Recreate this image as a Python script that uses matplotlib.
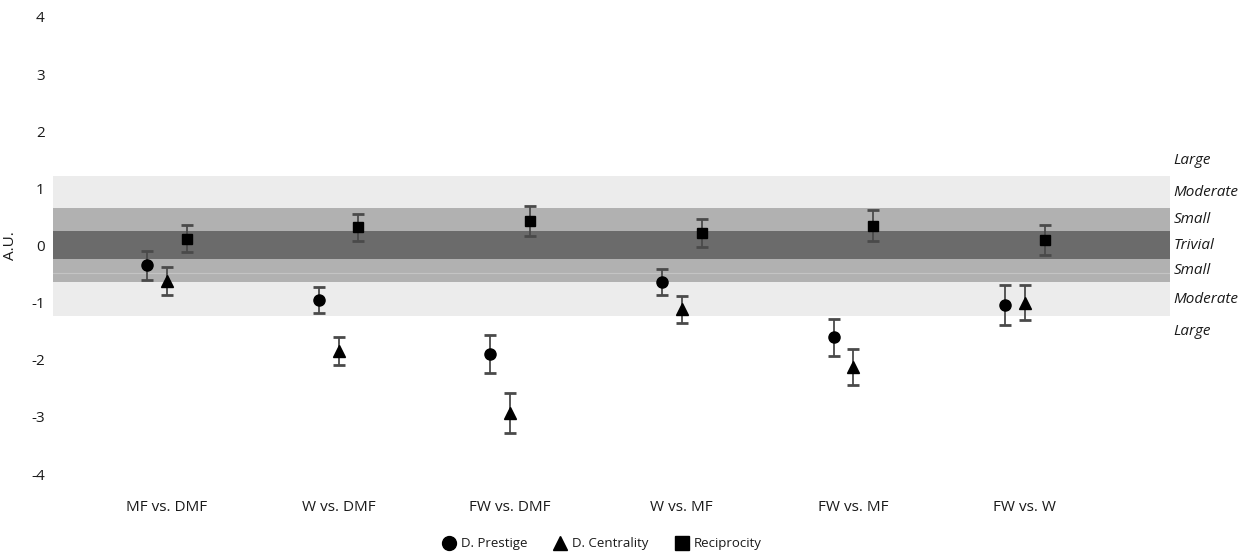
import matplotlib
matplotlib.use("Agg")
import matplotlib.pyplot as plt
import numpy as np
from matplotlib.lines import Line2D

plt.rcParams["font.family"] = ["Open Sans", "DejaVu Sans"]
plt.rcParams["axes.unicode_minus"] = False

comparisons = ["MF vs. DMF", "W vs. DMF", "FW vs. DMF", "W vs. MF", "FW vs. MF", "FW vs. W"]

prestige_mean = [-0.35, -0.95, -1.90, -0.64, -1.61, -1.04]
prestige_err = [0.25, 0.23, 0.34, 0.23, 0.33, 0.35]
centrality_mean = [-0.62, -1.85, -2.93, -1.12, -2.13, -1.00]
centrality_err = [0.25, 0.25, 0.35, 0.23, 0.32, 0.31]
reciprocity_mean = [0.12, 0.32, 0.43, 0.22, 0.35, 0.10]
reciprocity_err = [0.24, 0.24, 0.27, 0.25, 0.27, 0.26]

# magnitude thresholds (lower, upper) for the shaded zones
trivial_band = (-0.245, 0.26)
small_band = (-0.64, 0.65)
moderate_band = (-1.24, 1.21)
zone_names = ["Large", "Moderate", "Small", "Trivial", "Small", "Moderate", "Large"]

x = np.arange(len(comparisons))
offset = 0.115
text_color = "#1a1a1a"

fig = plt.figure(figsize=(12.52, 5.55), dpi=100)
ax = fig.add_axes([53 / 1252, 1 - 474 / 555, (1170 - 53) / 1252, (474 - 17) / 555])

ax.axhspan(*moderate_band, color="#ececec", zorder=0, lw=0)
ax.axhspan(*small_band, color="#b1b1b1", zorder=1, lw=0)
ax.axhspan(*trivial_band, color="#6b6b6b", zorder=2, lw=0)
ax.axhline(-0.49, color="#c4c4c4", lw=0.8, zorder=2)

err_kw = dict(ls="none", ecolor="#4a4a4a", elinewidth=1.3, capsize=4, capthick=2.0,
              mfc="black", mec="black", zorder=5)
ax.errorbar(x - offset, prestige_mean, yerr=prestige_err, fmt="o", ms=8, **err_kw)
ax.errorbar(x, centrality_mean, yerr=centrality_err, fmt="^", ms=8, **err_kw)
ax.errorbar(x + offset, reciprocity_mean, yerr=reciprocity_err, fmt="s", ms=7.5, **err_kw)

ax.set_xlim(-0.664, 5.845)
ax.set_ylim(-4, 4)
ax.set_yticks(np.arange(-4, 5, 1))
ax.set_xticks(x)
ax.set_xticklabels(comparisons, fontsize=11)
ax.tick_params(axis="both", length=0, labelsize=11, colors=text_color)
ax.tick_params(axis="x", pad=19)
ax.tick_params(axis="y", pad=6)
for spine in ax.spines.values():
    spine.set_visible(False)
ax.set_ylabel("A.U.", fontsize=11, color=text_color)
ax.yaxis.set_label_coords(-(53 - 18) / 1117, 0.5)

# zone labels on the right, centred in each band
top_large = moderate_band[1] + 0.27
bottom_large = moderate_band[0] - 0.26
zone_y = [
    top_large,
    (small_band[1] + moderate_band[1]) / 2,
    (trivial_band[1] + small_band[1]) / 2,
    0.0,
    (trivial_band[0] + small_band[0]) / 2,
    (small_band[0] + moderate_band[0]) / 2,
    bottom_large,
]
for name, yv in zip(zone_names, zone_y):
    ax.text(1.003, yv, name, transform=ax.get_yaxis_transform(), ha="left", va="center",
            fontsize=11, style="italic", color=text_color, clip_on=False)

handles = [
    Line2D([0], [0], marker="o", ls="none", color="black", ms=10, label="D. Prestige"),
    Line2D([0], [0], marker="^", ls="none", color="black", ms=10, label="D. Centrality"),
    Line2D([0], [0], marker="s", ls="none", color="black", ms=10, label="Reciprocity"),
]
leg = fig.legend(handles=handles, loc="center", bbox_to_anchor=(602 / 1252, 1 - 544 / 555), ncol=3,
                 frameon=False, fontsize=9.5, handletextpad=0.4, columnspacing=2.0,
                 handlelength=1.0)
for t in leg.get_texts():
    t.set_color(text_color)

fig.savefig("out.png", dpi=100)
